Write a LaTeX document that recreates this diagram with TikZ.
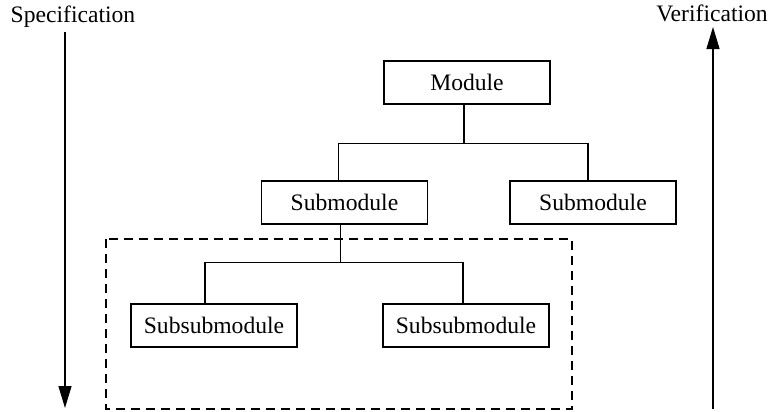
\documentclass[tikz,border=0pt]{standalone}
\usepackage{fontspec}
\setmainfont{Liberation Serif}
\usetikzlibrary{arrows.meta, positioning}

\tikzset{
  block/.style={draw, line width=0.6pt, minimum width=83pt, minimum height=21.5pt, inner sep=0pt},
  link/.style={line width=0.6pt},
  flow/.style={line width=0.6pt, -{Triangle[length=11pt, width=6.5pt]}},
  group/.style={line width=0.6pt, dash pattern=on 4.5pt off 3pt}
}

\begin{document}
\begin{tikzpicture}[x=0.5pt, y=-0.5pt, font=\fontsize{11.8}{14}\selectfont]

  \useasboundingbox (0,0) rectangle (773,412);

  % Side labels
  \node[anchor=base] (spec) at (73,23) {Specification};
  \node[anchor=base] (verif) at (712,22) {Verification};
  \coordinate (specEnd) at (65,408);
  \coordinate (verifStart) at (713,409);

  % Module and submodules
  \node[block] (module) at (467,82.5) {Module};
  \node[block] (subL) at (344.5,202.5) {Submodule};
  \node[block] (subR) at (593,202.5) {Submodule};

  % Subsubmodules
  \node[block] (subsubL) at (214,325.5) {Subsubmodule};
  \node[block] (subsubR) at (466,325.5) {Subsubmodule};

  % Tree links
  \draw[link] ([xshift=-1.5pt]module.south) -- ++(0,39) coordinate (j1);
  \draw[link] ([xshift=-3pt]subL.north) |- (j1) -| ([xshift=-2.5pt]subR.north);
  \draw[link] ([xshift=-2pt]subL.south) -- ++(0,38) coordinate (j2);
  \draw[link] ([xshift=-4.5pt]subsubL.north) |- (j2) -| ([xshift=-1.5pt]subsubR.north);

  % Dashed group
  \draw[group] (106,239) rectangle (572,409);

  % Direction arrows
  \draw[flow] (specEnd |- 0,32) -- (specEnd);
  \draw[flow] (verifStart) -- (verifStart |- 0,27);

\end{tikzpicture}
\end{document}
